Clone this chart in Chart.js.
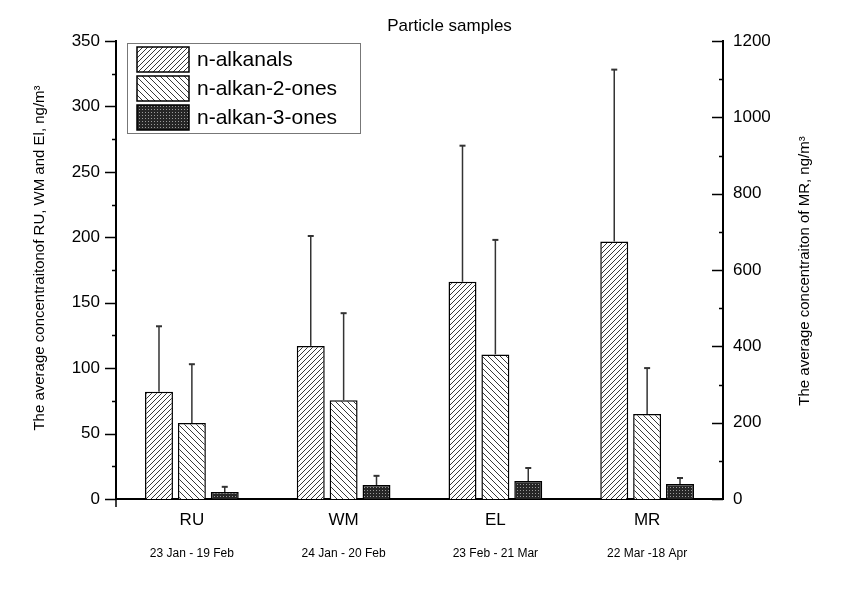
<!DOCTYPE html>
<html>
<head>
<meta charset="utf-8">
<script src="https://cdn.jsdelivr.net/npm/chart.js@4.4.1/dist/chart.umd.min.js"></script>
<style>
    body { margin: 0; background: #fff; }
    #graf { display: block; }
</style>
</head>
<body>
<canvas id="graf" width="855" height="595"></canvas>
<script>
// Data
const sites = ['RU', 'WM', 'EL', 'MR'];
const periods = ['23 Jan - 19 Feb', '24 Jan - 20 Feb', '23 Feb - 21 Mar', '22 Mar -18 Apr'];
const seriesNames = ['n-alkanals', 'n-alkan-2-ones', 'n-alkan-3-ones'];

// RU, WM, EL on the left axis (ng/m3)
const alkanals = [82, 117, 166, null];
const alkanalsSd = [50, 84, 104, null];
const alkan2ones = [58, 75.5, 110.5, null];
const alkan2onesSd = [45, 66.5, 87.5, null];
const alkan3ones = [5.3, 10.7, 13.7, null];
const alkan3onesSd = [4, 7, 10, null];

// MR on the right axis (ng/m3)
const alkanalsMR = [null, null, null, 675];
const alkanalsMRSd = [null, null, null, 450];
const alkan2onesMR = [null, null, null, 223];
const alkan2onesMRSd = [null, null, null, 120];
const alkan3onesMR = [null, null, null, 39];
const alkan3onesMRSd = [null, null, null, 16];

const leftTicks = [0, 50, 100, 150, 200, 250, 300, 350];
const rightTicks = [0, 200, 400, 600, 800, 1000, 1200];

const leftTitle = 'The average concentraitonof RU, WM and El, ng/m³';
const rightTitle = 'The average concentraiton of MR, ng/m³';

const FONT = "'Liberation Sans', Arial, sans-serif";

// Hatch patterns
function makeHatch(dir, gap) {
    const c = document.createElement('canvas');
    c.width = gap; c.height = gap;
    const g = c.getContext('2d');
    g.fillStyle = '#fff';
    g.fillRect(0, 0, gap, gap);
    g.strokeStyle = '#222';
    g.lineWidth = 0.9;
    g.beginPath();
    if (dir === '/') {
        g.moveTo(0, gap); g.lineTo(gap, 0);
        g.moveTo(-1, 1); g.lineTo(1, -1);
        g.moveTo(gap - 1, gap + 1); g.lineTo(gap + 1, gap - 1);
    } else {
        g.moveTo(0, 0); g.lineTo(gap, gap);
        g.moveTo(gap - 1, -1); g.lineTo(gap + 1, 1);
        g.moveTo(-1, gap - 1); g.lineTo(1, gap + 1);
    }
    g.stroke();
    return g.createPattern(c, 'repeat');
}

function makeDots() {
    const c = document.createElement('canvas');
    c.width = 3; c.height = 3;
    const g = c.getContext('2d');
    g.fillStyle = '#262626';
    g.fillRect(0, 0, 3, 3);
    g.fillStyle = '#9a9a9a';
    g.fillRect(1, 1, 1, 1);
    return g.createPattern(c, 'repeat');
}

const patterns = [makeHatch('/', 5), makeHatch('\\', 6), makeDots()];

function barSet(label, data, errors, idx, axis) {
    return {
        label: label,
        data: data,
        errors: errors,
        yAxisID: axis,
        backgroundColor: patterns[idx],
        borderColor: '#000',
        borderWidth: 1.5,
        skipNull: true,
        categoryPercentage: 0.65,
        barPercentage: 0.85
    };
}

// Error bars, ticks, axis titles, legend and title
const extras = {
    id: 'extras',
    afterDatasetsDraw(chart) {
        const ctx = chart.ctx;
        chart.data.datasets.forEach((ds, i) => {
            const meta = chart.getDatasetMeta(i);
            const yScale = chart.scales[ds.yAxisID];
            meta.data.forEach((bar, j) => {
                const v = ds.data[j];
                const e = ds.errors[j];
                if (v == null || e == null) return;
                const yTop = yScale.getPixelForValue(v + e);
                ctx.save();
                ctx.strokeStyle = '#333';
                ctx.lineWidth = 1.5;
                ctx.beginPath();
                ctx.moveTo(bar.x, bar.y);
                ctx.lineTo(bar.x, yTop);
                ctx.stroke();
                ctx.lineWidth = 2;
                ctx.beginPath();
                ctx.moveTo(bar.x - 3, yTop);
                ctx.lineTo(bar.x + 3, yTop);
                ctx.stroke();
                ctx.restore();
            });
        });
    },
    afterDraw(chart) {
        const ctx = chart.ctx;
        const area = chart.chartArea;
        const yL = chart.scales.y;
        const yR = chart.scales.y1;

        ctx.save();
        ctx.strokeStyle = '#000';
        ctx.lineWidth = 1.5;
        ctx.beginPath();
        // left axis: outward ticks, minor every 25
        for (let v = 0; v <= 350; v += 25) {
            const py = Math.round(yL.getPixelForValue(v)) + 0.5;
            const len = v % 50 === 0 ? 11 : 4;
            ctx.moveTo(area.left - len, py);
            ctx.lineTo(area.left, py);
        }
        // right axis: inward ticks, minor every 100
        for (let v = 0; v <= 1200; v += 100) {
            const py = Math.round(yR.getPixelForValue(v)) + 0.5;
            const len = v % 200 === 0 ? 11 : 4;
            ctx.moveTo(area.right - len, py);
            ctx.lineTo(area.right, py);
        }
        // small tick at left end of x axis
        ctx.moveTo(area.left, area.bottom);
        ctx.lineTo(area.left, area.bottom + 8);
        ctx.stroke();

        // title
        ctx.fillStyle = '#000';
        ctx.font = '17px ' + FONT;
        ctx.textAlign = 'center';
        ctx.textBaseline = 'alphabetic';
        ctx.fillText('Particle samples', (area.left + area.right) / 2 + 30, 31);

        // axis titles, both read bottom to top
        ctx.font = '15px ' + FONT;
        ctx.textBaseline = 'middle';
        ctx.save();
        ctx.translate(40, (area.top + area.bottom) / 2 - 12);
        ctx.rotate(-Math.PI / 2);
        ctx.fillText(leftTitle, 0, 0);
        ctx.restore();
        ctx.save();
        ctx.translate(805, (area.top + area.bottom) / 2 + 1);
        ctx.rotate(-Math.PI / 2);
        ctx.fillText(rightTitle, 0, 0);
        ctx.restore();

        // legend box
        const lx = area.left + 11, ly = area.top + 2;
        ctx.strokeStyle = '#777';
        ctx.lineWidth = 1;
        ctx.strokeRect(lx + 0.5, ly + 0.5, 233, 90);
        ctx.font = '21px ' + FONT;
        ctx.textAlign = 'left';
        ctx.textBaseline = 'middle';
        seriesNames.forEach((name, i) => {
            const sy = ly + 4 + i * 29;
            ctx.fillStyle = patterns[i];
            ctx.fillRect(lx + 10, sy, 52, 25);
            ctx.strokeStyle = '#000';
            ctx.lineWidth = 1.5;
            ctx.strokeRect(lx + 10, sy, 52, 25);
            ctx.fillStyle = '#000';
            ctx.fillText(name, lx + 70, sy + 13);
        });
        ctx.restore();
    }
};

const chart = new Chart(document.getElementById('graf'), {
    type: 'bar',
    data: {
        labels: sites,
        datasets: [
            barSet(seriesNames[0], alkanals, alkanalsSd, 0, 'y'),
            barSet(seriesNames[0], alkanalsMR, alkanalsMRSd, 0, 'y1'),
            barSet(seriesNames[1], alkan2ones, alkan2onesSd, 1, 'y'),
            barSet(seriesNames[1], alkan2onesMR, alkan2onesMRSd, 1, 'y1'),
            barSet(seriesNames[2], alkan3ones, alkan3onesSd, 2, 'y'),
            barSet(seriesNames[2], alkan3onesMR, alkan3onesMRSd, 2, 'y1')
        ]
    },
    options: {
        responsive: false,
        animation: false,
        devicePixelRatio: 1,
        layout: { padding: { top: 41, left: 0, right: 0, bottom: 0 } },
        plugins: {
            legend: { display: false },
            tooltip: { enabled: false }
        },
        scales: {
            x: {
                position: 'bottom',
                grid: { display: false, drawTicks: false },
                border: { display: true, color: '#000', width: 2 },
                ticks: { color: '#000', font: { family: FONT, size: 17 }, padding: 11 },
                afterFit: s => { s.height = 33; }
            },
            x2: {
                type: 'category',
                labels: periods,
                position: 'bottom',
                offset: true,
                grid: { display: false, drawTicks: false },
                border: { display: false },
                ticks: { color: '#000', font: { family: FONT, size: 12 }, padding: 14 },
                afterFit: s => { s.height = 63; }
            },
            y: {
                position: 'left',
                min: 0,
                max: 350,
                afterBuildTicks: s => { s.ticks = leftTicks.map(v => ({ value: v })); },
                grid: { display: false, drawTicks: false },
                border: { display: true, color: '#000', width: 2 },
                ticks: { color: '#000', font: { family: FONT, size: 17 }, padding: 16 },
                afterFit: s => { s.width = 116; }
            },
            y1: {
                position: 'right',
                min: 0,
                max: 1200,
                afterBuildTicks: s => { s.ticks = rightTicks.map(v => ({ value: v })); },
                grid: { display: false, drawTicks: false },
                border: { display: true, color: '#000', width: 2 },
                ticks: {
                    color: '#000',
                    font: { family: FONT, size: 17 },
                    padding: 10,
                    callback: v => String(v)
                },
                afterFit: s => { s.width = 132; }
            }
        }
    },
    plugins: [extras]
});
</script>
</body>
</html>
